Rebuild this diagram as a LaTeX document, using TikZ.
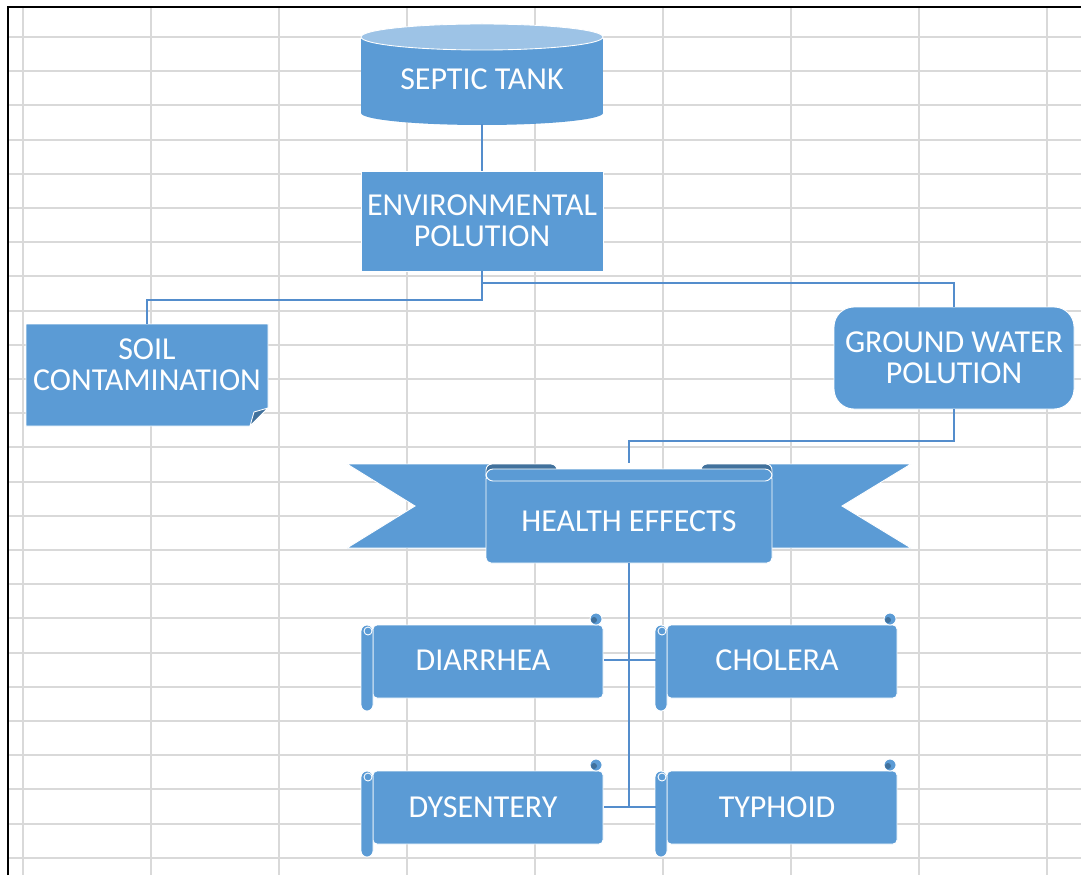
\documentclass[tikz,border=0pt]{standalone}
\usepackage{fontspec}
\setmainfont{Carlito}
\usetikzlibrary{backgrounds}
\definecolor{boxblue}{RGB}{91,155,213}
\definecolor{lidblue}{RGB}{157,195,230}
\definecolor{foldblue}{RGB}{65,113,156}
\definecolor{linkblue}{RGB}{84,141,204}
\definecolor{cellgray}{RGB}{217,217,217}

\begin{document}
\begin{tikzpicture}[x=0.02cm, y=-0.02cm,
    lbl/.style={text=white, font=\fontsize{18.2}{17.6}\selectfont, align=center, inner sep=0pt},
    link/.style={draw=linkblue, line width=1.2pt},
    shp/.style={fill=boxblue, draw=white, line width=0.5pt},
    cell/.style={draw=cellgray, line width=1.1pt}]
  \useasboundingbox (0,0) rectangle (1081,875);

  \node[lbl, minimum width=4.84cm, minimum height=1.8cm] (tank) at (482,79) {SEPTIC TANK};
  \node[lbl, minimum width=4.84cm, minimum height=2cm] (env) at (482,221) {ENVIRONMENTAL\\POLUTION};
  \node[lbl, minimum width=4.84cm, minimum height=1.64cm] (soil) at (147,365) {SOIL\\CONTAMINATION};
  \node[lbl, minimum width=4.8cm, minimum height=2.04cm] (ground) at (954,358) {GROUND WATER\\POLUTION};
  \node[lbl, minimum width=5.72cm, minimum height=1.68cm] (health) at (629,521) {HEALTH EFFECTS};
  \node[lbl, minimum width=4.84cm, minimum height=1.98cm] (diar) at (483,660) {DIARRHEA};
  \node[lbl, minimum width=4.84cm, minimum height=1.98cm] (chol) at (777,660) {CHOLERA};
  \node[lbl, minimum width=4.84cm, minimum height=1.98cm] (dys) at (483,807) {DYSENTERY};
  \node[lbl, minimum width=4.84cm, minimum height=1.98cm] (typh) at (777,807) {TYPHOID};

  \begin{pgfonlayer}{background}
    % sheet cells
    \foreach \k in {0,...,8}
      \draw[cell] (23+128*\k,7) -- (23+128*\k,875);
    \foreach \k in {0,...,24}
      \draw[cell] (8,37+34.2*\k) -- (1081,37+34.2*\k);
    \draw[line width=1.2pt] (8,875) -- (8,7) -- (1081,7);

    % tank
    \fill[boxblue] (361,37) rectangle (603,113);
    \fill[boxblue] (482,113) ellipse [x radius=121, y radius=12];
    \filldraw[fill=lidblue, draw=white, line width=0.5pt] (482,37) ellipse [x radius=121, y radius=13];

    \path[shp] (361,171) rectangle (603,271);
    \path[shp] (26,324) -- (268,324) -- (268,408) -- (250,426) -- (26,426) -- cycle;
    \path[fill=foldblue, draw=white, line width=0.5pt] (250,426) -- (254,412) -- (268,408) -- cycle;
    \path[shp, rounded corners=0.4cm] (834,307) rectangle (1074,409);

    % ribbon
    \path[shp] (347,464) -- (520,464) -- (520,548) -- (347,548) -- (415,506) -- cycle;
    \path[shp] (911,464) -- (738,464) -- (738,548) -- (911,548) -- (842,506) -- cycle;
    \path[fill=foldblue, draw=white, line width=0.5pt, rounded corners=0.12cm] (486,464) rectangle (557,482);
    \path[fill=foldblue, draw=white, line width=0.5pt, rounded corners=0.12cm] (701,464) rectangle (772,482);
    \path[shp, rounded corners=0.1cm] (486,474) rectangle (772,563);
    \path[shp, rounded corners=0.14cm] (486,469) rectangle (772,481);

    % scrolls
    \foreach \ox/\oy in {361/612,655/612,361/758,655/758}{
      \path[shp, rounded corners=0.08cm] (\ox+12,\oy+13) rectangle (\ox+242,\oy+86);
      \path[shp] (\ox+235,\oy+7) circle [radius=6];
      \fill[foldblue] (\ox+233,\oy+8) circle [radius=3];
      \path[shp, rounded corners=0.12cm] (\ox,\oy+13) rectangle (\ox+12,\oy+99);
      \draw[white, line width=0.5pt] (\ox+7,\oy+19) circle [radius=4];
    }

    \draw[link] (tank.south) -- (env.north);
    \draw[link] (env.south) -- ++(0,29) -| (soil.north);
    \draw[link] (env.south) ++(0,12) -| (ground.north);
    \draw[link] (ground.south) -- ++(0,32) -| ([yshift=0.32cm]health.north);
    \draw[link] (health.south) -- (health.south |- dys.east);
    \draw[link] (diar.east) -- (chol.west);
    \draw[link] (dys.east) -- (typh.west);
  \end{pgfonlayer}
\end{tikzpicture}
\end{document}
